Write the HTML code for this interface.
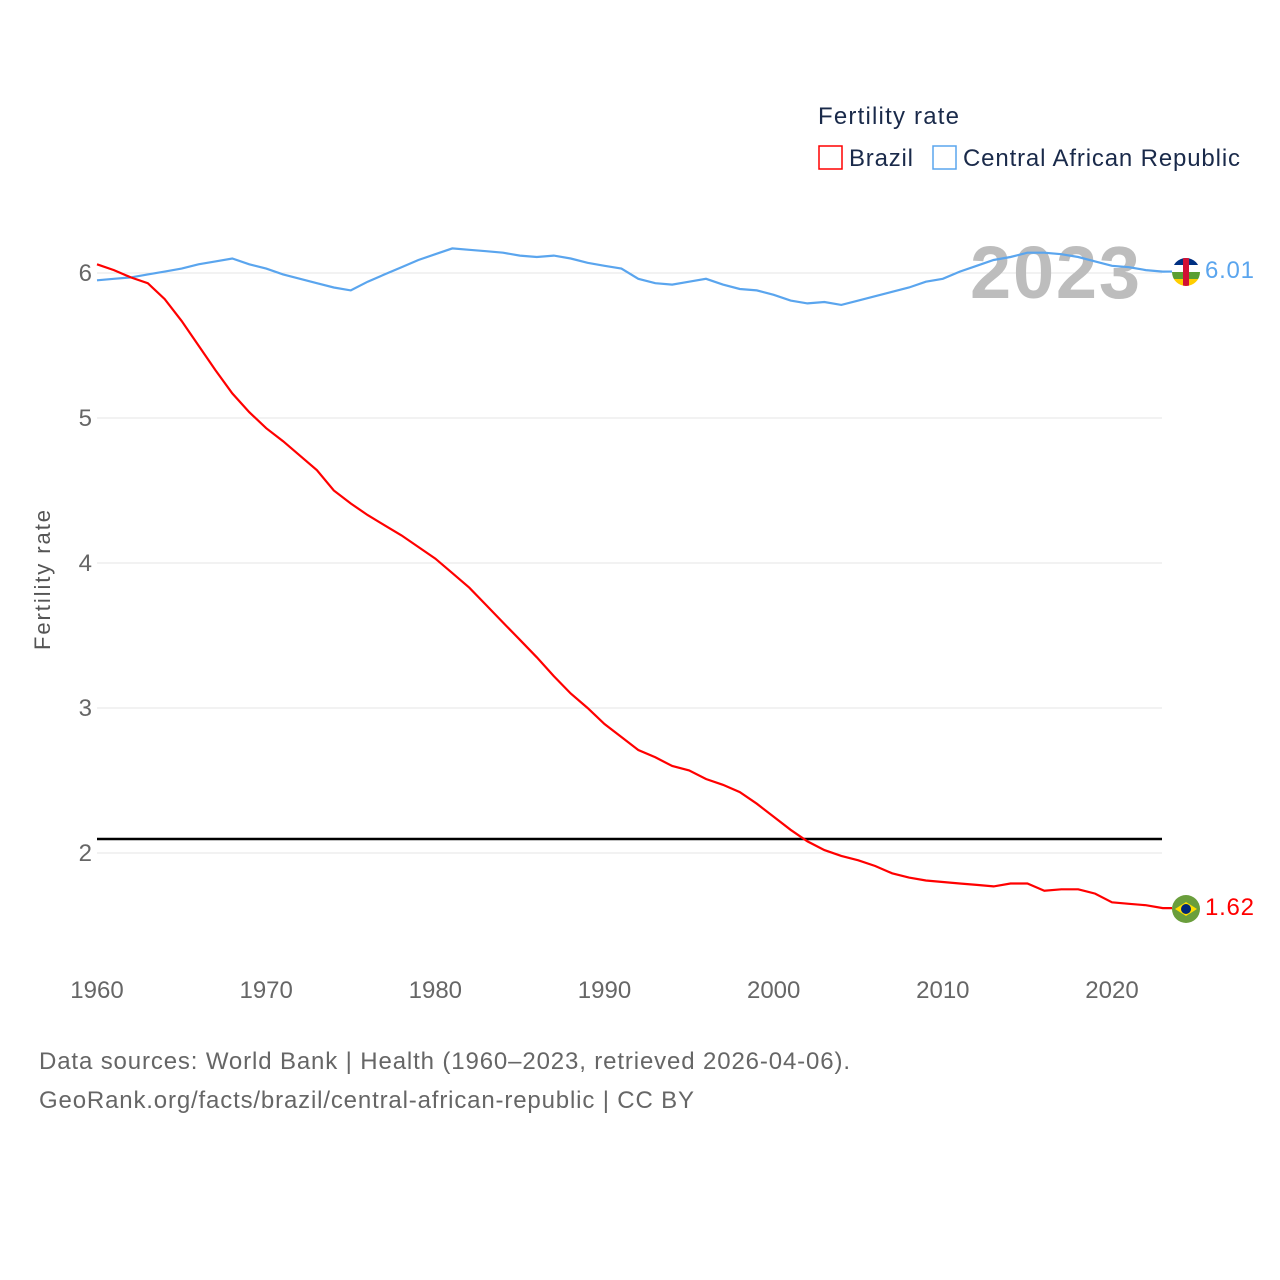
<!DOCTYPE html>
<html><head><meta charset="utf-8">
<style>
body{margin:0;background:#fff;font-family:"Liberation Sans",sans-serif;}
svg{display:block}
</style></head>
<body>
<svg id="chart" width="1280" height="1280">
<g id="grid"></g>
<g id="ticks"></g>
<text x="1055" y="298" font-size="74" font-weight="bold" fill="#bdbdbd" text-anchor="middle" textLength="170">2023</text>
<line x1="97" x2="1162" y1="839" y2="839" stroke="#000" stroke-width="2.5"/>
<g id="series"></g>
<text transform="translate(50,580) rotate(-90)" font-size="22" fill="#555" text-anchor="middle" textLength="140">Fertility rate</text>
<text x="818" y="124" font-size="24" fill="#1a2a4a" textLength="141">Fertility rate</text>
<g><rect x="819" y="146" width="23" height="23" fill="none" stroke="#f00" stroke-width="1.5"/><text x="849" y="166" font-size="24" fill="#1a2a4a" textLength="64">Brazil</text></g>
<g><rect x="933" y="146" width="23" height="23" fill="none" stroke="#5aa5ee" stroke-width="1.5"/><text x="963" y="166" font-size="24" fill="#1a2a4a" textLength="277">Central African Republic</text></g>
<g><circle cx="1186" cy="272" r="14" fill="#fff"/><clipPath id="cf"><circle cx="1186" cy="272" r="14"/></clipPath><g clip-path="url(#cf)"><rect x="1172" y="258" width="28" height="7" fill="#003082"/><rect x="1172" y="265" width="28" height="7" fill="#fff"/><rect x="1172" y="272" width="28" height="7" fill="#5a9e32"/><rect x="1172" y="279" width="28" height="7" fill="#ffce00"/><rect x="1183" y="258" width="6" height="28" fill="#d21034"/></g></g>
<g><circle cx="1186" cy="909" r="14" fill="#6a9e3c"/><path d="M1175 909 L1186 902 L1197 909 L1186 916Z" fill="#fedf00"/><circle cx="1186" cy="909" r="5" fill="#002776"/></g>
<text x="1205" y="278" font-size="24" fill="#5aa5ee" textLength="49">6.01</text>
<text x="1205" y="915" font-size="24" fill="#f00" textLength="49">1.62</text>
<text x="39" y="1069" font-size="24" fill="#666" textLength="811">Data sources: World Bank | Health (1960–2023, retrieved 2026-04-06).</text>
<text x="39" y="1108" font-size="24" fill="#666" textLength="655">GeoRank.org/facts/brazil/central-african-republic | CC BY</text>
</svg>
<script>
const years=[];for(let y=1960;y<=2023;y++)years.push(y);
const brazil=[6.06,6.02,5.97,5.93,5.82,5.67,5.50,5.33,5.17,5.04,4.93,4.84,4.74,4.64,4.50,4.41,4.33,4.26,4.19,4.11,4.03,3.93,3.83,3.71,3.59,3.47,3.35,3.22,3.10,3.00,2.89,2.80,2.71,2.66,2.60,2.57,2.51,2.47,2.42,2.34,2.25,2.16,2.08,2.02,1.98,1.95,1.91,1.86,1.83,1.81,1.80,1.79,1.78,1.77,1.79,1.79,1.74,1.75,1.75,1.72,1.66,1.65,1.64,1.62];
const car=[5.95,5.96,5.97,5.99,6.01,6.03,6.06,6.08,6.10,6.06,6.03,5.99,5.96,5.93,5.90,5.88,5.94,5.99,6.04,6.09,6.13,6.17,6.16,6.15,6.14,6.12,6.11,6.12,6.10,6.07,6.05,6.03,5.96,5.93,5.92,5.94,5.96,5.92,5.89,5.88,5.85,5.81,5.79,5.80,5.78,5.81,5.84,5.87,5.90,5.94,5.96,6.01,6.05,6.09,6.11,6.14,6.14,6.13,6.11,6.08,6.05,6.04,6.02,6.01];
const yTicks=[2,3,4,5,6];
const xTicks=[1960,1970,1980,1990,2000,2010,2020];
const X=y=>97+(y-1960)*(1015/60);
const Y=v=>273+(6-v)*145;
const NS="http://www.w3.org/2000/svg";
const grid=document.getElementById('grid'),ticks=document.getElementById('ticks'),series=document.getElementById('series');
yTicks.forEach(t=>{
 const l=document.createElementNS(NS,'line');
 l.setAttribute('x1',97);l.setAttribute('x2',1162);l.setAttribute('y1',Y(t));l.setAttribute('y2',Y(t));
 l.setAttribute('stroke','#e6e6e6');
 
 
 grid.appendChild(l);
 const tx=document.createElementNS(NS,'text');
 tx.setAttribute('x',92);tx.setAttribute('y',Y(t)+8);tx.setAttribute('text-anchor','end');tx.setAttribute('font-size','24');tx.setAttribute('fill','#666');
 tx.textContent=t;
 
 
 ticks.appendChild(tx);
});
xTicks.forEach(t=>{
 const tx=document.createElementNS(NS,'text');
 tx.setAttribute('x',X(t));tx.setAttribute('y',998);tx.setAttribute('text-anchor','middle');tx.setAttribute('font-size','24');tx.setAttribute('fill','#666');
 tx.textContent=t;
 
 
 ticks.appendChild(tx);
});
function line(vals,color,name,lx,ly){
 const p=document.createElementNS(NS,'path');
 p.setAttribute('d',vals.map((v,i)=>(i?'L':'M')+X(years[i]).toFixed(1)+' '+Y(v).toFixed(1)).join(' ')+` L${lx} ${ly}`);
 p.setAttribute('fill','none');p.setAttribute('stroke',color);p.setAttribute('stroke-width','2.2');
 
 
 series.appendChild(p);
}
line(car,'#5aa5ee','car-line',1172,Y(car[car.length-1]));
line(brazil,'#f00','brazil-line',1172,Y(brazil[brazil.length-1]));
</script>
</body></html>
